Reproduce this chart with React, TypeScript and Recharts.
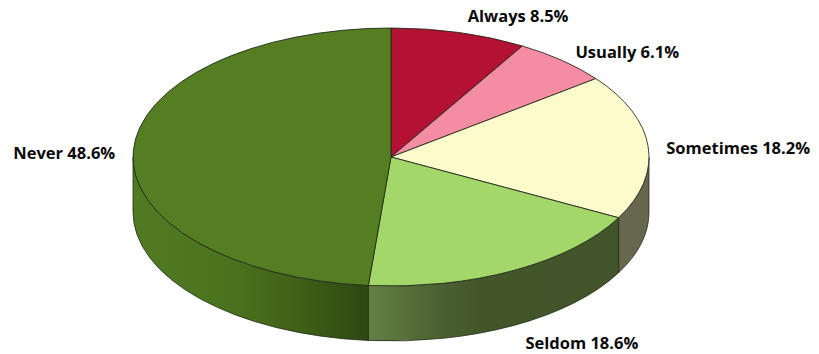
import React from "react";
import { PieChart, Pie } from "recharts";

const categories = ["Always", "Usually", "Sometimes", "Seldom", "Never"];
const values = [8.5, 6.1, 18.2, 18.6, 48.6];
const topColors = ["#B31233", "#F48CA3", "#FCFBCC", "#A4D76A", "#557D22"];

const W = 819, H = 354, CX = 391, CY = 157, RX = 258, SQUASH = 0.5, DEPTH = 55;

const wallStops: Record<string, [number, string][]> = {
  Sometimes: [[0, "#68684F"], [1, "#66664E"]],
  Seldom: [[0, "#657F43"], [0.3, "#4A5F30"], [0.45, "#43562A"], [1, "#42552A"]],
  Never: [[0, "#507B22"], [0.4, "#4B731E"], [0.7, "#3F6117"], [0.9, "#344F14"], [1, "#304812"]],
};
const wallRange: Record<string, [number, number]> = {
  Sometimes: [619, 649],
  Seldom: [369, 619],
  Never: [133, 369],
};
const labelShift: Record<string, [number, number]> = {
  Always: [59, -17],
  Usually: [65, -9],
  Sometimes: [90, 1],
  Seldom: [68, 72],
  Never: [-69, 1],
};

const data = categories.map((name, i) => ({ name, value: values[i], fill: topColors[i] }));

const rim = (cx: number, cy: number, r: number, deg: number, dy = 0) => {
  const t = ((90 - deg) * Math.PI) / 180;
  return [cx + r * Math.sin(t), cy - r * SQUASH * Math.cos(t) + dy];
};

const TopFace = (p: any) => {
  const { cx, cy, outerRadius: r, startAngle, endAngle, fill } = p;
  const [x0, y0] = rim(cx, cy, r, startAngle);
  const [x1, y1] = rim(cx, cy, r, endAngle);
  const large = Math.abs(endAngle - startAngle) > 180 ? 1 : 0;
  const d = `M${cx},${cy}L${x0},${y0}A${r},${r * SQUASH} 0 ${large} 1 ${x1},${y1}Z`;
  return <path d={d} fill={fill} stroke="#20261A" strokeOpacity={0.85} strokeWidth={1} strokeLinejoin="round" />;
};

const Wall = (p: any) => {
  const { cx, cy, outerRadius: r, startAngle, endAngle, name } = p;
  const a = Math.max(90 - startAngle, 90);
  const b = Math.min(90 - endAngle, 270);
  if (b <= a) return <g />;
  const [x0, y0] = rim(cx, cy, r, 90 - a);
  const [x1, y1] = rim(cx, cy, r, 90 - b);
  const ry = r * SQUASH;
  const d = `M${x0},${y0}A${r},${ry} 0 0 1 ${x1},${y1}L${x1},${y1 + DEPTH}A${r},${ry} 0 0 0 ${x0},${y0 + DEPTH}Z`;
  const id = `wall-${name}`;
  const [gx0, gx1] = wallRange[name];
  return (
    <g>
      <defs>
        <linearGradient id={id} gradientUnits="userSpaceOnUse" x1={gx0} x2={gx1} y1={0} y2={0}>
          {wallStops[name].map(([o, c]) => (
            <stop key={o} offset={o} stopColor={c} />
          ))}
        </linearGradient>
      </defs>
      <path d={d} fill={`url(#${id})`} stroke="#20281A" strokeOpacity={0.75} strokeWidth={1} strokeLinejoin="round" />
    </g>
  );
};

const renderLabel = (p: any) => {
  const { cx, cy, outerRadius: r, midAngle, name, value } = p;
  const [x, y] = rim(cx, cy, r, midAngle);
  const [dx, dy] = labelShift[name];
  return (
    <text
      x={x + dx}
      y={y + dy}
      textAnchor="middle"
      dominantBaseline="central"
      fontFamily="'Open Sans', sans-serif"
      fontWeight={700}
      fontSize={16.5}
      fill="#0A0A0A"
    >
      {`${name} ${value}%`}
    </text>
  );
};

export default function App() {
  return (
    <div style={{ position: "absolute", left: 0, top: 0, width: W, height: H, background: "#fff" }}>
      <PieChart width={W} height={H} margin={{ top: 0, right: 0, bottom: 0, left: 0 }}>
        <Pie
          data={data}
          dataKey="value"
          nameKey="name"
          cx={CX}
          cy={CY}
          outerRadius={RX}
          startAngle={90}
          endAngle={-270}
          isAnimationActive={false}
          shape={Wall}
          legendType="none"
        />
        <Pie
          data={data}
          dataKey="value"
          nameKey="name"
          cx={CX}
          cy={CY}
          outerRadius={RX}
          startAngle={90}
          endAngle={-270}
          isAnimationActive={false}
          shape={TopFace}
          label={renderLabel}
          labelLine={false}
        />
      </PieChart>
    </div>
  );
}
